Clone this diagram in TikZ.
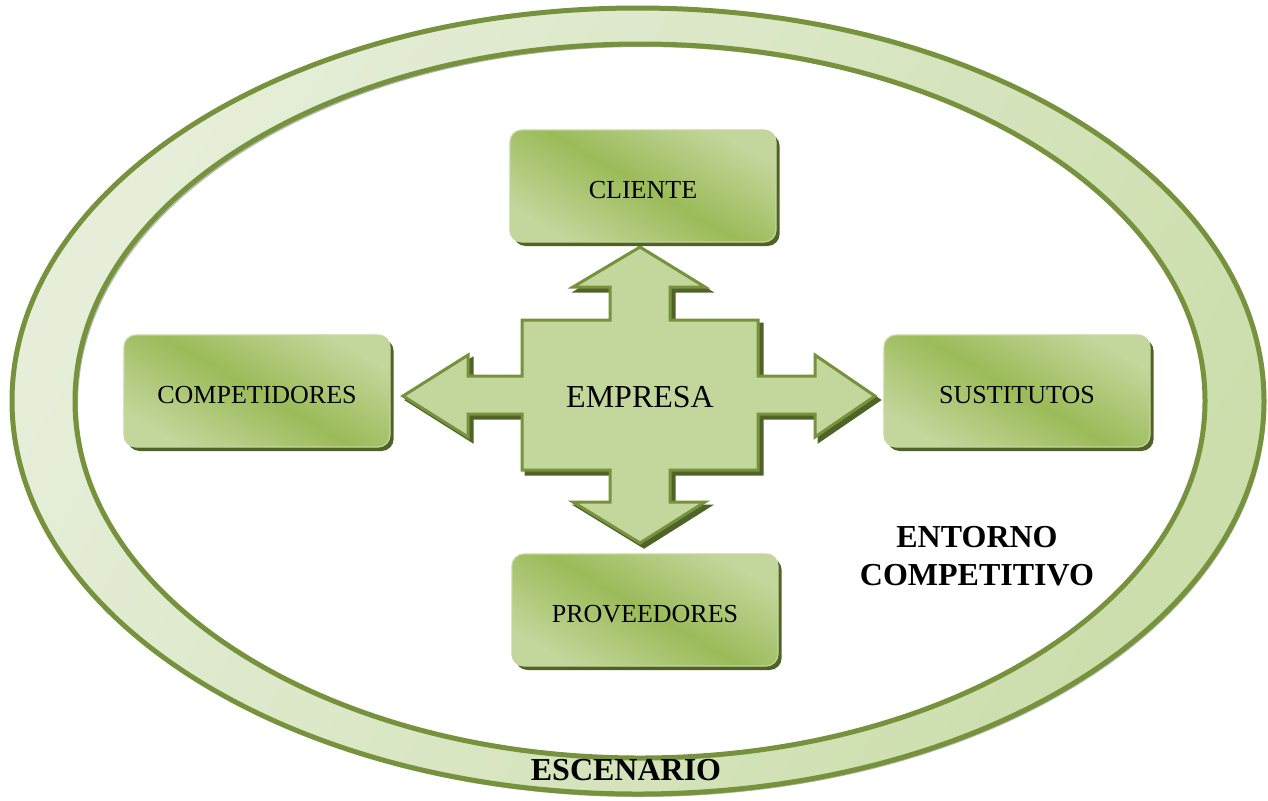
\documentclass[tikz,border=0pt]{standalone}
\usepackage{fontspec}
\setmainfont{Liberation Serif}
\usetikzlibrary{shadows}
\definecolor{olive}{HTML}{76923C}
\definecolor{oliveshadow}{HTML}{4F6228}
\definecolor{boxdark}{HTML}{9BBB59}
\definecolor{boxlight}{HTML}{C3D69B}
\definecolor{ringlight}{HTML}{E6EED9}
\definecolor{ringmid}{HTML}{CCDEAC}
\definecolor{ringshadow}{HTML}{9FA892}
\tikzset{
  forcebox/.style={rounded corners=6pt, draw=boxlight, line width=0.6pt,
    top color=boxlight, bottom color=boxlight, middle color=boxdark, shading angle=-30,
    minimum width=133pt, minimum height=56pt, font=\fontsize{13}{15}\selectfont,
    text height=12.6pt, text depth=0pt,
    drop shadow={shadow xshift=1.8pt, shadow yshift=-2pt, fill=oliveshadow, opacity=1}},
  biglabel/.style={font=\fontsize{16}{19}\selectfont\bfseries, align=center}
}
\begin{document}
\begin{tikzpicture}[x=0.5pt, y=-0.5pt]
\useasboundingbox (0,0) rectangle (1268,800);

% ring shadow
\fill[ringshadow, even odd rule, opacity=0.8]
  (640,404) ellipse [x radius=313pt, y radius=196.5pt]
  (643,404) ellipse [x radius=282.5pt, y radius=178.5pt];
% scenario ring
\path[even odd rule, left color=ringlight, right color=ringmid, shading angle=60]
  (638,401) ellipse [x radius=313pt, y radius=196.5pt]
  (640,401) ellipse [x radius=282.5pt, y radius=178.5pt];
\draw[olive, line width=2.5pt] (638,401) ellipse [x radius=313pt, y radius=196.5pt];
\draw[olive, line width=2.5pt] (640,401) ellipse [x radius=282.5pt, y radius=178.5pt];

% company cross with four arrow heads
\def\crosspath{(640,247) -- (705,287) -- (670,287) -- (670,320) -- (758,320) -- (758,376)
  -- (815,376) -- (815,355) -- (875,396) -- (815,437) -- (815,414) -- (758,414)
  -- (758,470) -- (670,470) -- (670,502) -- (705,502) -- (640,543) -- (573,502)
  -- (610,502) -- (610,470) -- (522,470) -- (522,414) -- (468,414) -- (468,437)
  -- (403,396) -- (468,355) -- (468,376) -- (522,376) -- (522,320) -- (610,320)
  -- (610,287) -- (573,287) -- cycle}
\begin{scope}[shift={(2pt,-2pt)}]
  \fill[oliveshadow, line join=miter] \crosspath;
  \draw[oliveshadow, line width=1.5pt, line join=miter] \crosspath;
\end{scope}
\draw[fill=boxlight, draw=olive, line width=1.5pt, line join=miter] \crosspath;
\node[font=\fontsize{16}{19}\selectfont] (empresa) at (640,397) {EMPRESA};

% forces around the company
\node[forcebox] (cliente) at (643,186) {CLIENTE};
\node[forcebox] (competidores) at (257,391) {COMPETIDORES};
\node[forcebox] (sustitutos) at (1017,391) {SUSTITUTOS};
\node[forcebox] (proveedores) at (645,610) {PROVEEDORES};

% labels
\node[biglabel] (entorno) at (977,556) {ENTORNO\\COMPETITIVO};
\node[biglabel] (escenario) at (626,770) {ESCENARIO};
\end{tikzpicture}
\end{document}
